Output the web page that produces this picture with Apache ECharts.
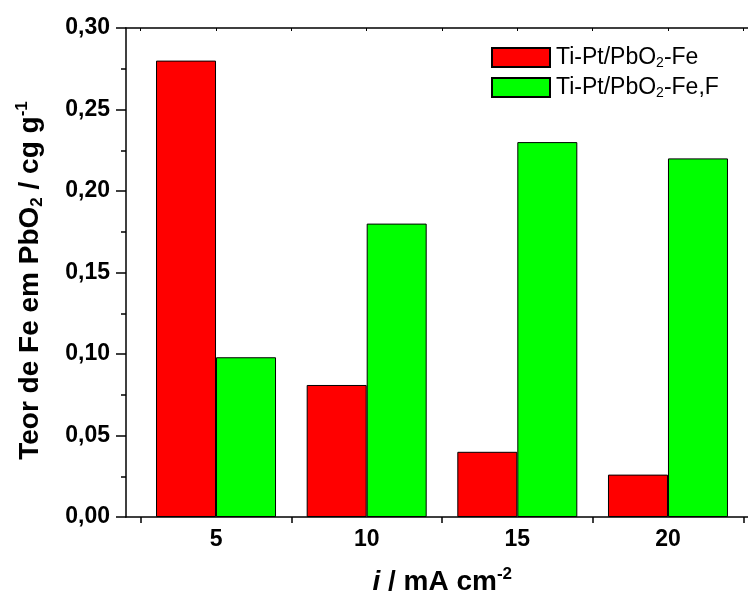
<!DOCTYPE html>
<html>
<head>
<meta charset="utf-8">
<script src="https://cdn.jsdelivr.net/npm/echarts@6/dist/echarts.min.js"></script>
<style>html,body{margin:0;padding:0;background:#fff}#c{width:748px;height:595px}</style>
</head>
<body>
<div id="c"></div>
<script>
const categories = ['5', '10', '15', '20'];
const seriesNames = ['Ti-Pt/PbO2-Fe', 'Ti-Pt/PbO2-Fe,F'];
const valuesFe = [0.280, 0.081, 0.040, 0.026];
const valuesFeF = [0.098, 0.180, 0.230, 0.220];
const yTicks = [0, 0.05, 0.10, 0.15, 0.20, 0.25, 0.30];

const FONT = "'Liberation Sans', Arial, sans-serif";
const chart = echarts.init(document.getElementById('c'));
const axisLineStyle = { color: '#000', width: 1.5 };

chart.setOption({
  animation: false,
  backgroundColor: '#fff',
  grid: [
    { left: 126, right: -10.5, top: 28, bottom: 78, outerBoundsMode: 'none', containLabel: false },
    { left: 140.7, right: 4.7, top: 28, bottom: 78, outerBoundsMode: 'none', containLabel: false }
  ],
  legend: {
    data: seriesNames,
    orient: 'vertical',
    left: 491, top: 45,
    padding: 0,
    itemGap: 5,
    itemWidth: 58, itemHeight: 19,
    icon: 'rect',
    formatter: n => { const p = n.split('PbO2'); return '{b|' + p[0] + 'PbO}{sub|2}{b|' + p[1] + '}'; },
    textStyle: {
      fontFamily: FONT, fontSize: 23, color: '#000', lineHeight: 25, padding: [0, 0, 0, 1],
      rich: {
        b: { fontFamily: FONT, fontSize: 23, color: '#000', lineHeight: 25 },
        sub: { fontFamily: FONT, fontSize: 14, color: '#000', verticalAlign: 'bottom', lineHeight: 2 }
      }
    }
  },
  xAxis: [
    { gridIndex: 0, type: 'value', min: 0, max: 1, position: 'bottom',
      axisLine: { show: true, lineStyle: axisLineStyle }, axisTick: { show: false },
      axisLabel: { show: false }, splitLine: { show: false },
      name: '{it|i} / mA cm{sup|-2}', nameLocation: 'middle', nameGap: 49,
      nameTextStyle: { fontFamily: FONT, fontSize: 28, fontWeight: 'bold', color: '#000', lineHeight: 32,
        rich: {
          it: { fontFamily: FONT, fontSize: 28, fontWeight: 'bold', fontStyle: 'italic', color: '#000', lineHeight: 32 },
          sup: { fontFamily: FONT, fontSize: 17, fontWeight: 'bold', color: '#000', verticalAlign: 'top', lineHeight: 12 }
        } } },
    { gridIndex: 0, type: 'value', min: 0, max: 1, position: 'top',
      axisLine: { show: true, lineStyle: axisLineStyle }, axisTick: { show: false },
      axisLabel: { show: false }, splitLine: { show: false } },
    { gridIndex: 1, type: 'category', data: categories, position: 'bottom', boundaryGap: true,
      axisLine: { show: false },
      axisTick: { show: true, length: 6, lineStyle: { color: '#000', width: 1.5 } },
      axisLabel: { fontFamily: FONT, fontSize: 23, fontWeight: 'bold', color: '#000', margin: 11 },
      splitLine: { show: false } },
    { gridIndex: 1, type: 'category', data: ['', '', '', '', '', '', '', ''], position: 'top', boundaryGap: true,
      axisLine: { show: false },
      axisTick: { show: true, inside: true, length: 3, lineStyle: { color: '#000', width: 1 } },
      axisLabel: { show: false }, splitLine: { show: false } }
  ],
  yAxis: [
    { gridIndex: 0, type: 'value', min: yTicks[0], max: yTicks[yTicks.length - 1], interval: 0.05,
      axisLine: { show: true, lineStyle: axisLineStyle },
      axisTick: { show: true, length: 10, lineStyle: { color: '#000', width: 1.5 } },
      minorTick: { show: true, splitNumber: 2, length: 5, lineStyle: { color: '#000', width: 1.5 } },
      splitLine: { show: false },
      axisLabel: { fontFamily: FONT, fontSize: 23, fontWeight: 'bold', color: '#000', margin: 16,
        formatter: v => v.toFixed(2).replace('.', ',') },
      name: 'Teor de Fe em PbO{sub|2} / cg g{sup|-1}', nameLocation: 'middle', nameGap: 80, nameRotate: 90,
      nameTextStyle: { fontFamily: FONT, fontSize: 28, fontWeight: 'bold', color: '#000', lineHeight: 32,
        padding: [0, 16, 0, 0],
        rich: {
          sub: { fontFamily: FONT, fontSize: 17, fontWeight: 'bold', color: '#000', verticalAlign: 'bottom', lineHeight: 6 },
          sup: { fontFamily: FONT, fontSize: 17, fontWeight: 'bold', color: '#000', verticalAlign: 'top', lineHeight: 10 }
        } } },
    { gridIndex: 1, type: 'value', min: 0, max: 0.3, show: false }
  ],
  series: [
    { name: seriesNames[0], type: 'bar', xAxisIndex: 2, yAxisIndex: 1, data: valuesFe,
      barWidth: 60, barGap: '0%',
      itemStyle: { color: '#ff0000', borderColor: '#000', borderWidth: 1 } },
    { name: seriesNames[1], type: 'bar', xAxisIndex: 2, yAxisIndex: 1, data: valuesFeF,
      barWidth: 60, barGap: '0%',
      itemStyle: { color: '#00ff00', borderColor: '#000', borderWidth: 1 } }
  ]
});
</script>
</body>
</html>
